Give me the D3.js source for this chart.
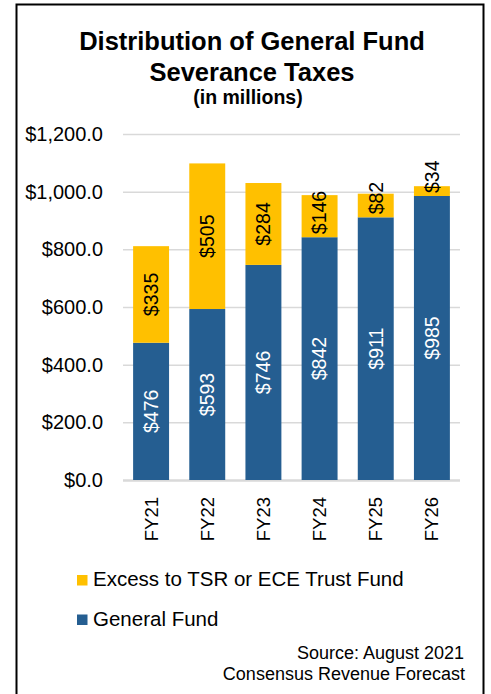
<!DOCTYPE html>
<html>
<head>
<meta charset="utf-8">
<script src="https://cdn.jsdelivr.net/npm/d3@7"></script>
<style>
  body { margin: 0; background: #fff; }
  text { font-family: "Liberation Sans", Arial, sans-serif; }
</style>
</head>
<body>
<svg id="chart" width="491" height="694"></svg>
<script>

// values, in millions
var years = ["FY21", "FY22", "FY23", "FY24", "FY25", "FY26"];
var generalFund = [476, 593, 746, 842, 911, 985];
var excess = [335, 505, 284, 146, 82, 34];
var yTicks = [0, 200, 400, 600, 800, 1000, 1200];
var seriesNames = ["Excess to TSR or ECE Trust Fund", "General Fund"];
var seriesColors = ["#ffc000", "#255e91"];

var svg = d3.select("#chart");

// outer frame, runs off the bottom of the picture
svg.append("rect")
    .attr("x", 16.5).attr("y", 4.5)
    .attr("width", 467).attr("height", 720)
    .attr("fill", "none")
    .attr("stroke", "#000")
    .attr("stroke-width", 2);

// title
svg.append("text")
    .attr("x", 252).attr("y", 50)
    .attr("text-anchor", "middle")
    .attr("font-size", 25.5).attr("font-weight", "bold")
    .text("Distribution of General Fund");
svg.append("text")
    .attr("x", 252).attr("y", 81)
    .attr("text-anchor", "middle")
    .attr("font-size", 25.5).attr("font-weight", "bold")
    .text("Severance Taxes");
svg.append("text")
    .attr("x", 248).attr("y", 104)
    .attr("text-anchor", "middle")
    .attr("font-size", 19.5).attr("font-weight", "bold")
    .text("(in millions)");

var x = d3.scaleBand()
    .domain(years)
    .range([123, 460])
    .paddingInner(0.36)
    .paddingOuter(0.18);

var y = d3.scaleLinear()
    .domain([0, 1200])
    .range([480, 134]);

// gridlines + y labels
var yAxis = svg.append("g")
    .attr("transform", "translate(123,0)")
    .call(d3.axisLeft(y)
        .tickValues(yTicks)
        .tickSize(-337)
        .tickPadding(20)
        .tickFormat(function(d) { return "$" + d3.format(",.1f")(d); }));
yAxis.select(".domain").remove();
yAxis.selectAll(".tick line")
    .attr("stroke", "#d9d9d9")
    .attr("stroke-width", function(d) { return d === 0 ? 2.5 : 1.5; });
yAxis.selectAll(".tick text")
    .attr("font-size", 20)
    .attr("fill", "#000")
    .attr("font-family", "Liberation Sans, Arial, sans-serif");

// bars
var rows = years.map(function(yr, i) {
  return { year: yr, general: generalFund[i], excess: excess[i] };
});

var g = svg.append("g");

g.selectAll(".gf")
    .data(rows)
  .enter().append("rect")
    .attr("x", function(d) { return x(d.year); })
    .attr("width", x.bandwidth())
    .attr("y", function(d) { return y(d.general); })
    .attr("height", function(d) { return y(0) - y(d.general); })
    .attr("fill", seriesColors[1]);

g.selectAll(".ex")
    .data(rows)
  .enter().append("rect")
    .attr("x", function(d) { return x(d.year); })
    .attr("width", x.bandwidth())
    .attr("y", function(d) { return y(d.general + d.excess); })
    .attr("height", function(d) { return y(d.general) - y(d.general + d.excess); })
    .attr("fill", seriesColors[0]);

// value labels, rotated
function cx(d) { return x(d.year) + x.bandwidth() / 2; }

g.selectAll(".gfl")
    .data(rows)
  .enter().append("text")
    .attr("transform", function(d) {
      return "translate(" + cx(d) + "," + y(d.general / 2) + ") rotate(-90)";
    })
    .attr("text-anchor", "middle")
    .attr("dy", "0.35em")
    .attr("font-size", 19.5)
    .attr("fill", "#fff")
    .text(function(d) { return "$" + d.general; });

// excess labels: centred, but pushed up when they don't fit the segment
g.selectAll(".exl")
    .data(rows)
  .enter().append("text")
    .attr("text-anchor", "middle")
    .attr("dy", "0.35em")
    .attr("font-size", 19.5)
    .attr("fill", "#000")
    .text(function(d) { return "$" + d.excess; })
    .attr("transform", function(d) {
      var half = this.getComputedTextLength() / 2;
      var mid = y(d.general + d.excess / 2);
      var cy = Math.min(mid, y(d.general) - 3 - half);
      if (mid + half <= y(d.general)) cy = mid;
      return "translate(" + cx(d) + "," + cy + ") rotate(-90)";
    });

// x labels
svg.append("g").selectAll("text")
    .data(years)
  .enter().append("text")
    .attr("transform", function(d) {
      return "translate(" + (x(d) + x.bandwidth() / 2) + ",497) rotate(-90)";
    })
    .attr("text-anchor", "end")
    .attr("dy", "0.35em")
    .attr("font-size", 18.5)
    .text(function(d) { return d; });

// legend
var legend = svg.append("g").selectAll("g")
    .data(seriesNames)
  .enter().append("g")
    .attr("transform", function(d, i) { return "translate(77," + (575 + i * 39.5) + ")"; });
legend.append("rect")
    .attr("width", 10.5).attr("height", 10.5)
    .attr("fill", function(d, i) { return seriesColors[i]; });
legend.append("text")
    .attr("x", 16).attr("y", 11)
    .attr("font-size", 20.5)
    .text(function(d) { return d; });

// source note
svg.append("text")
    .attr("x", 464).attr("y", 659)
    .attr("text-anchor", "end")
    .attr("font-size", 18)
    .text("Source: August 2021");
svg.append("text")
    .attr("x", 465).attr("y", 680)
    .attr("text-anchor", "end")
    .attr("font-size", 18)
    .text("Consensus Revenue Forecast");

</script>
</body>
</html>
